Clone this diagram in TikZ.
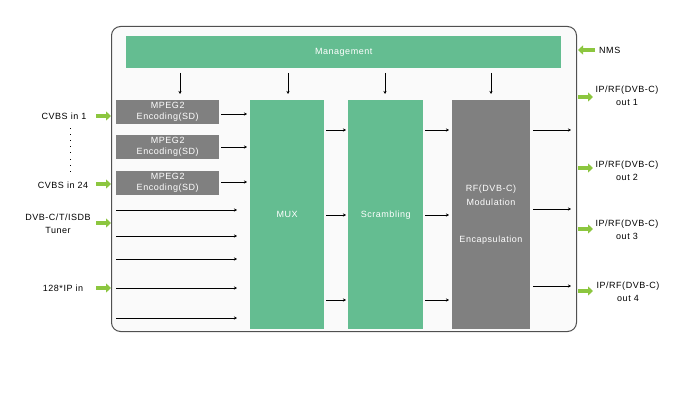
\documentclass[tikz,border=0pt]{standalone}
\usepackage{fontspec}
\setmainfont{Liberation Sans}[LetterSpace=6]
\usetikzlibrary{arrows.meta}
\definecolor{mgreen}{RGB}{100,189,145}
\definecolor{mgray}{RGB}{128,128,128}
\definecolor{lime}{RGB}{140,198,63}
\definecolor{boxedge}{RGB}{80,80,80}
\tikzset{
  x=1pt,y=-1pt,
  greenbox/.style={fill=mgreen,draw=none,inner sep=0pt,text=white,font=\fontsize{9}{10}\selectfont},
  graybox/.style={fill=mgray,draw=none,inner sep=0pt,text=white,align=center,font=\fontsize{9}{11}\selectfont},
  lbl/.style={inner sep=0pt,align=center,font=\fontsize{9}{13}\selectfont},
  thin arrow/.style={draw=black,line width=0.8pt,-{Stealth[length=3pt,width=3pt]}},
  lime arrow/.style={draw=lime,line width=4pt,-{Triangle[length=5pt,width=9pt]}},
}
\begin{document}
\begin{tikzpicture}
\useasboundingbox (0,0) rectangle (678,412);
\fill[white] (0,0) rectangle (678,412);
% outer box
\node[draw=boxedge,line width=1pt,fill=white!98!black,rounded corners=9pt,minimum width=465pt,minimum height=305pt,inner sep=0pt,anchor=north west] (outer) at (111,26) {};
% management
\node[greenbox,minimum width=435pt,minimum height=32pt,anchor=north west] (mgmt) at (126,36) {Management};
% MPEG2
\node[graybox,minimum width=103pt,minimum height=24pt,anchor=north west] (e1) at (116,100) {MPEG2\\Encoding(SD)};
\node[graybox,minimum width=103pt,minimum height=24pt,anchor=north west] (e2) at (116,135) {MPEG2\\Encoding(SD)};
\node[graybox,minimum width=103pt,minimum height=24pt,anchor=north west] (e3) at (116,171) {MPEG2\\Encoding(SD)};
% MUX, Scrambling, RF
\node[greenbox,minimum width=74pt,minimum height=229pt,anchor=north west] (mux) at (250,100) {MUX};
\node[greenbox,minimum width=75pt,minimum height=229pt,anchor=north west] (scr) at (348,100) {Scrambling};
\node[graybox,minimum width=78pt,minimum height=229pt,anchor=north west] (rf) at (452,100) {};
\node[lbl,text=white,anchor=center,font=\fontsize{9}{14}\selectfont] (rft) at (491,195) {RF(DVB-C)\\Modulation};
\node[lbl,text=white,anchor=center] (enc) at (491,240) {Encapsulation};
% management arrows
\foreach \xx/\t in {180/e1,288/mux,385/scr,491/rf}{
  \coordinate (s\t) at (\xx,73);
  \coordinate (d\t) at (\xx,94);
  \draw[thin arrow] (s\t) -- (d\t);
}
% encoder arrows
\foreach \e/\yy in {e1/114,e2/147,e3/182}{
  \coordinate (a\e) at (221,\yy);
  \coordinate (b\e) at (247,\yy);
  \draw[thin arrow] (a\e) -- (b\e);
}
% input lines
\foreach \i/\yy in {1/210,2/236,3/259,4/288,5/318}{
  \coordinate (li\i) at (116,\yy);
  \coordinate (lo\i) at (237,\yy);
  \draw[thin arrow] (li\i) -- (lo\i);
}
% mux->scr, scr->rf
\foreach \i/\yy in {1/130,2/215,3/300}{
  \coordinate (m\i) at (326,\yy); \coordinate (n\i) at (346,\yy);
  \draw[thin arrow] (m\i) -- (n\i);
  \coordinate (p\i) at (425,\yy); \coordinate (q\i) at (449,\yy);
  \draw[thin arrow] (p\i) -- (q\i);
}
% rf outputs
\foreach \i/\yy in {1/130,2/209,3/286}{
  \coordinate (r\i) at (533,\yy); \coordinate (t\i) at (571,\yy);
  \draw[thin arrow] (r\i) -- (t\i);
}
% lime input arrows
\foreach \i/\yy in {1/116,2/184,3/223,4/288}{
  \coordinate (g\i) at (96,\yy); \coordinate (h\i) at (111,\yy);
  \draw[lime arrow] (g\i) -- (h\i);
}
% NMS
\coordinate (nms0) at (595,50); \coordinate (nms1) at (578,50);
\draw[lime arrow] (nms0) -- (nms1);
\node[lbl,anchor=west] (nms) at (599,50) {NMS};
% outputs
\foreach \i/\yy in {1/97,2/168,3/229,4/291}{
  \coordinate (o\i) at (578,\yy); \coordinate (oo\i) at (593,\yy);
  \draw[lime arrow] (o\i) -- (oo\i);
}
\node[lbl] (out1) at (627,96) {IP/RF(DVB-C)\\out 1};
\node[lbl] (out2) at (627,171) {IP/RF(DVB-C)\\out 2};
\node[lbl] (out3) at (627,230) {IP/RF(DVB-C)\\out 3};
\node[lbl] (out4) at (628,292) {IP/RF(DVB-C)\\out 4};
% input labels
\node[lbl] (cv1) at (64,116) {CVBS in 1};
\node[lbl] (cv24) at (63,185) {CVBS in 24};
\node[lbl] (dvb) at (58,224) {DVB-C/T/ISDB\\Tuner};
\node[lbl] (ip) at (63,288) {128*IP in};
\foreach \yy in {128,134,140,146,152,159,165,171}{
  \fill[black] (70,\yy) rectangle ++(1.2,1.2);
}
\end{tikzpicture}
\end{document}
